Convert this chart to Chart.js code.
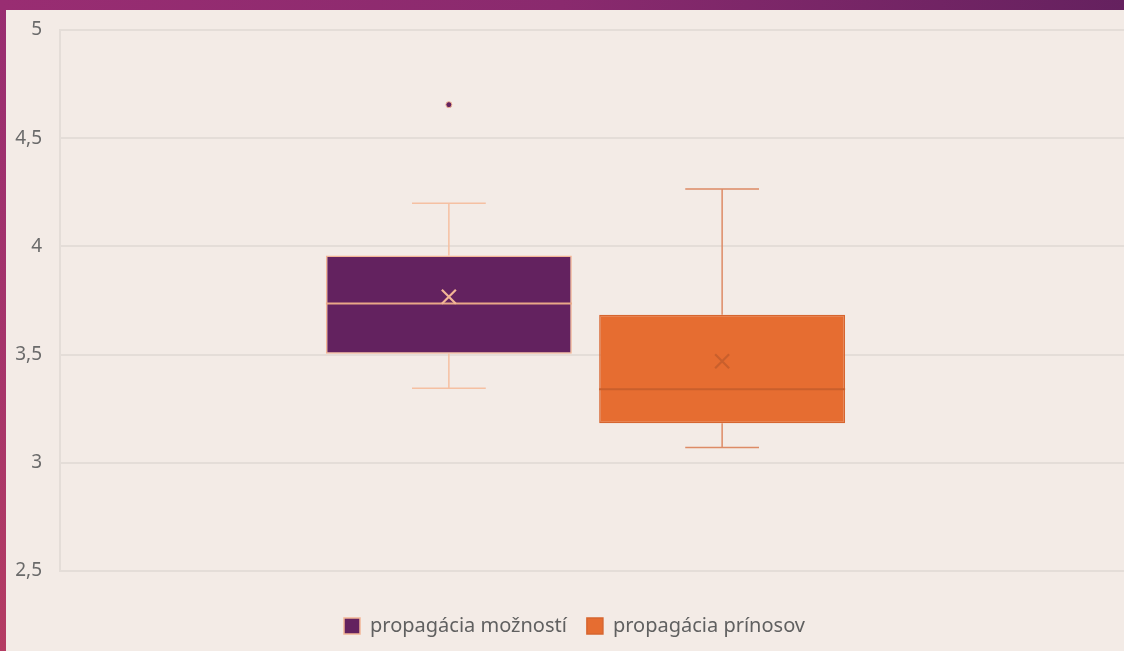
<!DOCTYPE html>
<html>
<head>
<meta charset="utf-8">
<script src="https://cdn.jsdelivr.net/npm/chart.js@4"></script>
<style>
  html, body { margin: 0; padding: 0; overflow: hidden; }
  body {
    width: 1124px; height: 651px; position: relative;
    background: linear-gradient(180deg, #982d71 0%, #a7356a 60%, #b43c63 100%);
  }
  .topband {
    position: absolute; left: 0; top: 0; width: 1124px; height: 10px;
    background: linear-gradient(90deg, #992d72 0%, #8a2a6e 50%, #65215f 100%);
  }
  .panel {
    position: absolute; left: 6px; top: 10px; width: 1118px; height: 641px;
    background: #f3ebe6;
  }
</style>
</head>
<body>
<div class="topband"></div>
<div class="panel"><canvas id="boxChart"></canvas></div>
<script>
// Data
const categories = [''];
const seriesNames = ['propagácia možností', 'propagácia prínosov'];
const minVals = [3.344, 3.071];
const q1Vals = [3.504, 3.183];
const medianVals = [3.736, 3.340];
const q3Vals = [3.958, 3.684];
const maxVals = [4.199, 4.265];
const meanVals = [3.767, 3.469];
const outliers = [[4.655], []];

// Colours per series
const fillColors = ['#63225f', '#e66d31'];
const edgeColors = ['#f2b596', '#d6652f'];
const whiskerColors = ['#f5c0a2', '#dd8b66'];
const medianColors = ['#e9a888', '#c95f2c'];
const gridColor = '#e4ddd8';

const boxExtras = {
  id: 'boxExtras',
  afterLayout(chart) {
    // legend sits a bit right of the canvas centre in the original
    chart.legend.left += 16;
    chart.legend.right += 16;
  },
  beforeDatasetsDraw(chart) {
    const ctx = chart.ctx;
    const y = chart.scales.y;
    const area = chart.chartArea;

    // grid continues to the panel edge
    ctx.save();
    ctx.strokeStyle = gridColor;
    ctx.lineWidth = 2;
    y.ticks.forEach(t => {
      const py = Math.round(y.getPixelForValue(t.value));
      ctx.beginPath();
      ctx.moveTo(area.right - 1, py);
      ctx.lineTo(chart.width, py);
      ctx.stroke();
    });

    // whiskers
    chart.data.datasets.forEach((ds, i) => {
      const bar = chart.getDatasetMeta(i).data[0];
      if (!bar) return;
      const x = bar.x;
      const cap = bar.width * 0.3;
      ctx.strokeStyle = whiskerColors[i];
      ctx.lineWidth = 1.5;
      ctx.beginPath();
      ctx.moveTo(x, y.getPixelForValue(maxVals[i]));
      ctx.lineTo(x, y.getPixelForValue(q3Vals[i]));
      ctx.moveTo(x, y.getPixelForValue(q1Vals[i]));
      ctx.lineTo(x, y.getPixelForValue(minVals[i]));
      ctx.moveTo(x - cap / 2, y.getPixelForValue(maxVals[i]));
      ctx.lineTo(x + cap / 2, y.getPixelForValue(maxVals[i]));
      ctx.moveTo(x - cap / 2, y.getPixelForValue(minVals[i]));
      ctx.lineTo(x + cap / 2, y.getPixelForValue(minVals[i]));
      ctx.stroke();
    });
    ctx.restore();
  },
  afterDatasetsDraw(chart) {
    const ctx = chart.ctx;
    const y = chart.scales.y;
    ctx.save();
    chart.data.datasets.forEach((ds, i) => {
      const bar = chart.getDatasetMeta(i).data[0];
      if (!bar) return;
      const x = bar.x;
      const half = bar.width / 2;

      // median
      const my = y.getPixelForValue(medianVals[i]);
      ctx.strokeStyle = medianColors[i];
      ctx.lineWidth = 2;
      ctx.beginPath();
      ctx.moveTo(x - half, my);
      ctx.lineTo(x + half, my);
      ctx.stroke();

      // mean marker (x)
      const ay = y.getPixelForValue(meanVals[i]);
      const s = 7;
      ctx.strokeStyle = i === 0 ? '#f2b596' : '#c95f2c';
      ctx.lineWidth = 2.2;
      ctx.beginPath();
      ctx.moveTo(x - s, ay - s);
      ctx.lineTo(x + s, ay + s);
      ctx.moveTo(x + s, ay - s);
      ctx.lineTo(x - s, ay + s);
      ctx.stroke();

      // outliers
      outliers[i].forEach(v => {
        ctx.beginPath();
        ctx.arc(x, y.getPixelForValue(v), 3, 0, Math.PI * 2);
        ctx.fillStyle = fillColors[i];
        ctx.fill();
        ctx.lineWidth = 1;
        ctx.strokeStyle = edgeColors[i];
        ctx.stroke();
      });
    });
    ctx.restore();
  }
};

const datasets = seriesNames.map((name, i) => ({
  label: name,
  data: [[q1Vals[i], q3Vals[i]]],
  backgroundColor: fillColors[i],
  borderColor: edgeColors[i],
  borderWidth: 1.5,
  borderSkipped: false,
  categoryPercentage: 0.52,
  barPercentage: 0.9
}));

new Chart(document.getElementById('boxChart').getContext('2d'), {
  type: 'bar',
  data: { labels: categories, datasets: datasets },
  plugins: [boxExtras],
  options: {
    responsive: true,
    maintainAspectRatio: false,
    animation: false,
    layout: { padding: { top: 20, right: 13, left: 0, bottom: 5 } },
    plugins: {
      tooltip: { enabled: false },
      legend: {
        position: 'bottom',
        labels: {
          color: '#606060',
          font: { family: 'Noto Sans', size: 20 },
          boxWidth: 16,
          boxHeight: 16,
          padding: 20
        }
      }
    },
    scales: {
      x: {
        grid: { display: false },
        border: { display: false },
        ticks: { display: false },
        afterFit: s => { s.height = 25; }
      },
      y: {
        min: 2.5,
        max: 5,
        afterFit: s => { s.width = 54; s.paddingTop = 0; s.paddingBottom = 0; },
        ticks: {
          stepSize: 0.5,
          padding: 18,
          color: '#6a6a6a',
          font: { family: 'Noto Sans', size: 19 },
          callback: v => String(v).replace('.', ',')
        },
        grid: { color: gridColor, lineWidth: 2, drawTicks: false },
        border: { color: gridColor, width: 2 }
      }
    }
  }
});
</script>
</body>
</html>
